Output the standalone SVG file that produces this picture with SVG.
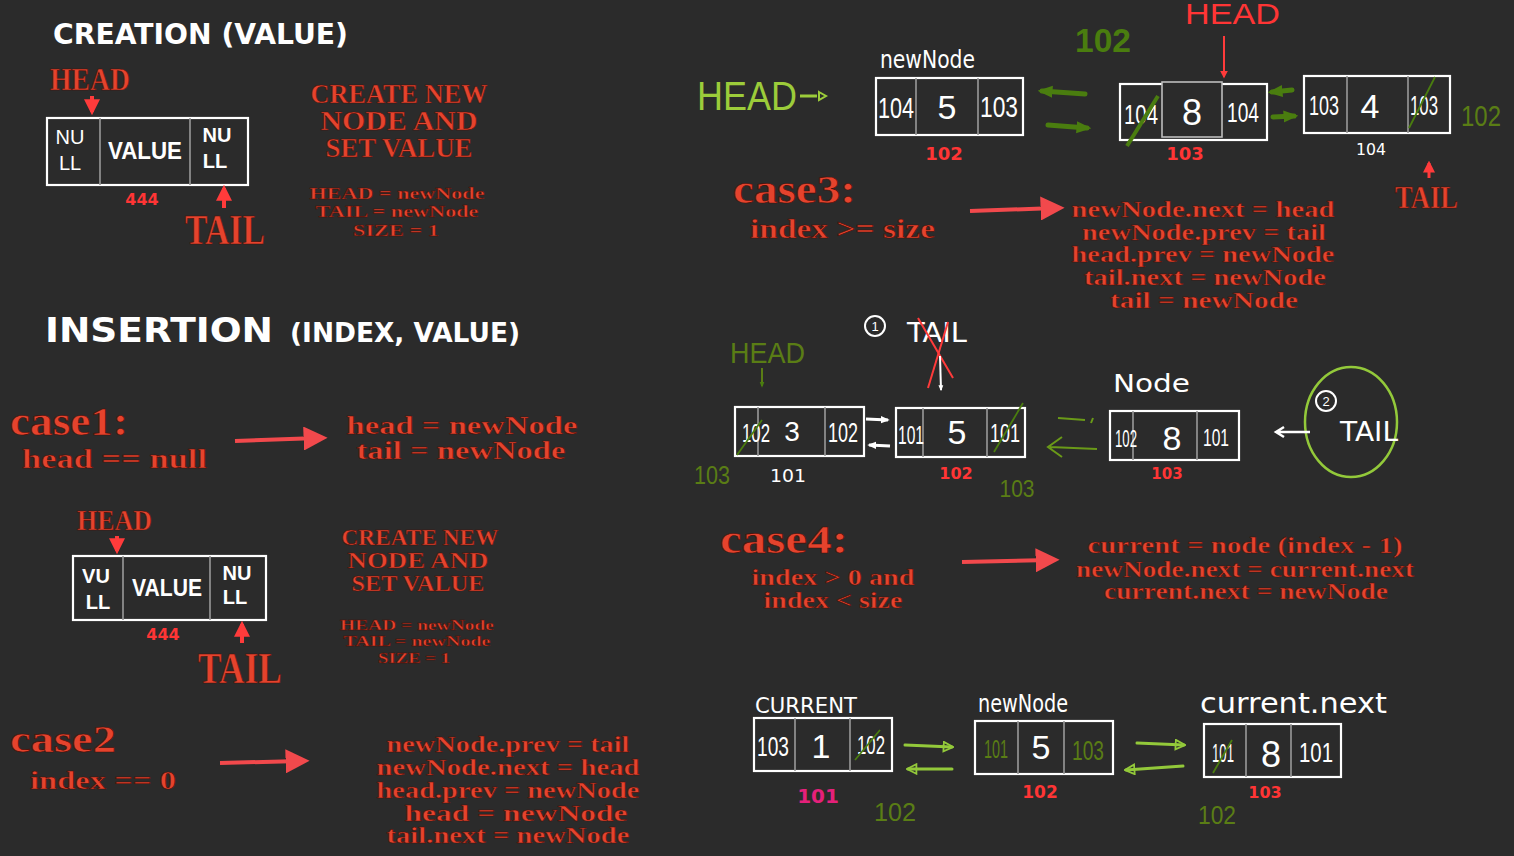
<svg xmlns="http://www.w3.org/2000/svg" width="1514" height="856" viewBox="0 0 1514 856">
<defs>
<style>
.rt{font-family:"Liberation Serif",serif;font-weight:bold;fill:#e5432d;stroke:#4a0d06;stroke-width:0.5;text-anchor:middle}
.rs{font-family:"Liberation Serif",serif;font-weight:bold;fill:#e5432d;stroke:#4a0d06;stroke-width:0.6}
.hw{font-family:"DejaVu Sans",sans-serif;fill:#ffffff}
.hl{font-family:"Liberation Sans",sans-serif;fill:#ffffff;text-anchor:middle}
.box{fill:#2b2b2b;stroke:#ffffff;stroke-width:2.2}
.div{stroke:#9a9a9a;stroke-width:1.6}
.rarr{stroke:#f2494c;stroke-width:4;fill:none}
.sarr{stroke:#ff3b3b;stroke-width:2.5;fill:none}
.garr{stroke:#4a7d0f;stroke-width:5;fill:none;stroke-linecap:round}
.lgarr{stroke:#93c93a;stroke-width:3;fill:none;stroke-linecap:round}
.warr{stroke:#ffffff;stroke-width:2.5;fill:none}
.slash{stroke:#4a7d0f;stroke-width:1.8}
.rnum{font-family:"DejaVu Sans",sans-serif;fill:#ff3535;font-weight:bold;text-anchor:middle}
.gnum{font-family:"Liberation Sans",sans-serif;fill:#5a7d15;text-anchor:middle}
</style>
<marker id="mr" viewBox="0 0 10 10" refX="6" refY="5" markerWidth="6" markerHeight="6" orient="auto" markerUnits="strokeWidth"><path d="M0,0 L10,5 L0,10 z" fill="#f2494c"/></marker>
<marker id="ms" viewBox="0 0 10 10" refX="8" refY="5" markerWidth="4" markerHeight="4" orient="auto" markerUnits="strokeWidth"><path d="M0,0 L10,5 L0,10 z" fill="#ff3b3b"/></marker>
<marker id="mg" viewBox="0 0 10 10" refX="7" refY="5" markerWidth="3" markerHeight="3" orient="auto" markerUnits="strokeWidth"><path d="M0,1 L10,5 L0,9 z" fill="#4a7d0f"/></marker>
<marker id="mlg" viewBox="0 0 10 10" refX="8" refY="5" markerWidth="4" markerHeight="4" orient="auto" markerUnits="strokeWidth"><path d="M1,1 L9,5 L1,9 z" fill="none" stroke="#93c93a" stroke-width="1.5"/></marker>
<marker id="mw" viewBox="0 0 10 10" refX="8" refY="5" markerWidth="3" markerHeight="3" orient="auto" markerUnits="strokeWidth"><path d="M0,1 L10,5 L0,9 z" fill="#ffffff"/></marker>
</defs>
<rect width="1514" height="856" fill="#2b2b2b"/>

<!-- LEFT: creation -->
<g id="title-creation"><text class="hw" x="53" y="44" font-size="28" font-weight="bold" textLength="295" lengthAdjust="spacingAndGlyphs">CREATION (VALUE)</text></g>
<g id="creation-head"><text class="rs" x="50" y="90" font-size="32" textLength="80" lengthAdjust="spacingAndGlyphs">HEAD</text></g>
<g id="creation-node">
<rect class="box" x="47" y="118" width="201" height="67"/>
<line class="div" x1="100" y1="118" x2="100" y2="185"/><line class="div" x1="190" y1="118" x2="190" y2="185"/>
<text class="hl" x="70" y="144" font-size="20">NU</text><text class="hl" x="70" y="170" font-size="20">LL</text>
<text class="hl" x="145" y="159" font-size="24" font-weight="bold" textLength="74" lengthAdjust="spacingAndGlyphs">VALUE</text>
<text class="hl" x="217" y="142" font-size="20" font-weight="bold">NU</text><text class="hl" x="215" y="168" font-size="20" font-weight="bold">LL</text>
<text class="rnum" x="142" y="205" font-size="16">444</text>
</g>
<g id="creation-tail"><text class="rs" x="185" y="244" font-size="42" textLength="80" lengthAdjust="spacingAndGlyphs">TAIL</text></g>
<g id="creation-desc">
<text class="rt" x="399" y="103" font-size="27" textLength="177" lengthAdjust="spacingAndGlyphs">CREATE NEW</text>
<text class="rt" x="399" y="130" font-size="27" textLength="157" lengthAdjust="spacingAndGlyphs">NODE  AND</text>
<text class="rt" x="399" y="157" font-size="27" textLength="147" lengthAdjust="spacingAndGlyphs">SET VALUE</text>
<text class="rt" x="397" y="199" font-size="17" textLength="175" lengthAdjust="spacingAndGlyphs">HEAD = newNode</text>
<text class="rt" x="397" y="217" font-size="17" textLength="163" lengthAdjust="spacingAndGlyphs">TAIL = newNode</text>
<text class="rt" x="396" y="236" font-size="17" textLength="86" lengthAdjust="spacingAndGlyphs">SIZE = 1</text>
</g>

<!-- insertion -->
<g id="title-insertion"><text class="hw" x="45" y="342" font-size="34" font-weight="bold"><tspan textLength="228" lengthAdjust="spacingAndGlyphs">INSERTION</tspan><tspan x="290" font-size="26" textLength="230" lengthAdjust="spacingAndGlyphs">(INDEX, VALUE)</tspan></text></g>
<g id="case1">
<text class="rs" x="10" y="435" font-size="40" font-weight="normal" textLength="118" lengthAdjust="spacingAndGlyphs">case1:</text>
<text class="rs" x="22" y="468" font-size="28" textLength="185" lengthAdjust="spacingAndGlyphs">head  == null</text>
</g>
<g id="case1-result">
<text class="rt" x="462" y="434" font-size="25" textLength="231" lengthAdjust="spacingAndGlyphs">head = newNode</text>
<text class="rt" x="461" y="459" font-size="25" textLength="209" lengthAdjust="spacingAndGlyphs">tail = newNode</text>
</g>

<g id="case2-head"><text class="rs" x="77" y="530" font-size="30" textLength="75" lengthAdjust="spacingAndGlyphs">HEAD</text></g>
<g id="case2-node">
<rect class="box" x="73" y="556" width="193" height="64"/>
<line class="div" x1="123" y1="556" x2="123" y2="620"/><line class="div" x1="210" y1="556" x2="210" y2="620"/>
<text class="hl" x="96" y="583" font-size="20" font-weight="bold">VU</text><text class="hl" x="98" y="609" font-size="20" font-weight="bold">LL</text>
<text class="hl" x="167" y="596" font-size="24" font-weight="bold" textLength="70" lengthAdjust="spacingAndGlyphs">VALUE</text>
<text class="hl" x="237" y="580" font-size="20" font-weight="bold">NU</text><text class="hl" x="235" y="604" font-size="20" font-weight="bold">LL</text>
<text class="rnum" x="163" y="640" font-size="16">444</text>
</g>
<g id="case2-tail"><text class="rs" x="198" y="683" font-size="44" textLength="84" lengthAdjust="spacingAndGlyphs">TAIL</text></g>
<g id="case2-desc">
<text class="rt" x="420" y="545" font-size="23" textLength="157" lengthAdjust="spacingAndGlyphs">CREATE NEW</text>
<text class="rt" x="418" y="568" font-size="23" textLength="141" lengthAdjust="spacingAndGlyphs">NODE  AND</text>
<text class="rt" x="418" y="591" font-size="23" textLength="133" lengthAdjust="spacingAndGlyphs">SET VALUE</text>
<text class="rt" x="417" y="630" font-size="15" textLength="154" lengthAdjust="spacingAndGlyphs">HEAD = newNode</text>
<text class="rt" x="417" y="646" font-size="15" textLength="147" lengthAdjust="spacingAndGlyphs">TAIL = newNode</text>
<text class="rt" x="414" y="663" font-size="15" textLength="72" lengthAdjust="spacingAndGlyphs">SIZE = 1</text>
</g>
<g id="case2">
<text class="rs" x="10" y="752" font-size="38" font-weight="normal" textLength="106" lengthAdjust="spacingAndGlyphs">case2</text>
<text class="rs" x="30" y="789" font-size="26" textLength="146" lengthAdjust="spacingAndGlyphs">index == 0</text>
</g>
<g id="case2-result">
<text class="rt" x="508" y="752" font-size="23" textLength="243" lengthAdjust="spacingAndGlyphs">newNode.prev = tail</text>
<text class="rt" x="508" y="775" font-size="23" textLength="263" lengthAdjust="spacingAndGlyphs">newNode.next = head</text>
<text class="rt" x="508" y="798" font-size="23" textLength="263" lengthAdjust="spacingAndGlyphs">head.prev = newNode</text>
<text class="rt" x="516" y="821" font-size="23" textLength="223" lengthAdjust="spacingAndGlyphs">head = newNode</text>
<text class="rt" x="508" y="843" font-size="23" textLength="243" lengthAdjust="spacingAndGlyphs">tail.next = newNode</text>
</g>

<!-- RIGHT top -->
<g id="head-label-green"><text x="697" y="110" font-family="Liberation Sans, sans-serif" font-size="40" fill="#9ccc3a" textLength="100" lengthAdjust="spacingAndGlyphs">HEAD</text></g>
<g id="newnode-top">
<text class="hw" x="880" y="68" font-size="24" textLength="95" lengthAdjust="spacingAndGlyphs">newNode</text>
<rect class="box" x="876" y="78" width="147" height="57"/>
<line class="div" x1="916" y1="78" x2="916" y2="135"/><line class="div" x1="978" y1="78" x2="978" y2="135"/>
<text class="hl" x="896" y="118" font-size="30" textLength="36" lengthAdjust="spacingAndGlyphs">104</text>
<text class="hl" x="947" y="119" font-size="34">5</text>
<text class="hl" x="999" y="117" font-size="30" textLength="38" lengthAdjust="spacingAndGlyphs">103</text>
<text class="rnum" x="944" y="160" font-size="18">102</text>
</g>
<g id="label-102-top"><text x="1075" y="52" font-family="Liberation Sans, sans-serif" font-weight="bold" font-size="34" fill="#4a7d0f" textLength="56" lengthAdjust="spacingAndGlyphs">102</text></g>
<g id="head-label-red"><text x="1185" y="24" font-family="Liberation Sans, sans-serif" font-size="30" fill="#ff3535" textLength="95" lengthAdjust="spacingAndGlyphs">HEAD</text></g>
<g id="node-8-top">
<rect class="box" x="1120" y="84" width="147" height="56"/>
<rect x="1162" y="82" width="60" height="55" fill="#2b2b2b" stroke="#bdbdbd" stroke-width="1.6"/>
<text class="hl" x="1141" y="124" font-size="28" textLength="34" lengthAdjust="spacingAndGlyphs">104</text>
<line class="slash" x1="1127" y1="146" x2="1158" y2="96" style="stroke-width:4"/>
<text class="hl" x="1192" y="125" font-size="36">8</text>
<text class="hl" x="1243" y="122" font-size="28" textLength="32" lengthAdjust="spacingAndGlyphs">104</text>
<text class="rnum" x="1185" y="160" font-size="18">103</text>
</g>
<g id="node-4-top">
<rect class="box" x="1304" y="76" width="146" height="57"/>
<line class="div" x1="1347" y1="76" x2="1347" y2="133"/><line class="div" x1="1408" y1="76" x2="1408" y2="133"/>
<text class="hl" x="1324" y="115" font-size="28" textLength="30" lengthAdjust="spacingAndGlyphs">103</text>
<text class="hl" x="1370" y="118" font-size="34" font-weight="lighter">4</text>
<text class="hl" x="1424" y="115" font-size="28" textLength="28" lengthAdjust="spacingAndGlyphs">103</text>
<line class="slash" x1="1409" y1="128" x2="1435" y2="77"/>
<text class="hw" x="1356" y="155" font-size="15" textLength="30" lengthAdjust="spacingAndGlyphs">104</text>
</g>
<g id="label-102-right"><text class="gnum" x="1481" y="126" font-size="30" fill="#5a8a12" textLength="40" lengthAdjust="spacingAndGlyphs">102</text></g>
<g id="tail-top"><text class="rs" x="1395" y="208" font-size="32" textLength="63" lengthAdjust="spacingAndGlyphs">TAIL</text></g>

<g id="case3">
<text class="rs" x="733" y="203" font-size="40" font-weight="normal" textLength="123" lengthAdjust="spacingAndGlyphs">case3:</text>
<text class="rs" x="750" y="238" font-size="28" textLength="185" lengthAdjust="spacingAndGlyphs">index &gt;= size</text>
</g>
<g id="case3-result">
<text class="rt" x="1203" y="217" font-size="23" textLength="263" lengthAdjust="spacingAndGlyphs">newNode.next = head</text>
<text class="rt" x="1204" y="240" font-size="23" textLength="244" lengthAdjust="spacingAndGlyphs">newNode.prev = tail</text>
<text class="rt" x="1203" y="262" font-size="23" textLength="263" lengthAdjust="spacingAndGlyphs">head.prev = newNode</text>
<text class="rt" x="1205" y="285" font-size="23" textLength="242" lengthAdjust="spacingAndGlyphs">tail.next = newNode</text>
<text class="rt" x="1204" y="308" font-size="23" textLength="188" lengthAdjust="spacingAndGlyphs">tail = newNode</text>
</g>

<!-- middle right diagram -->
<g id="tail-1">
<circle cx="875" cy="326" r="10" fill="none" stroke="#ffffff" stroke-width="2"/>
<text class="hl" x="875" y="331" font-size="13">1</text>
<text class="hw" x="907" y="342" font-size="26" textLength="60" lengthAdjust="spacingAndGlyphs">TAIL</text>
<line x1="918" y1="318" x2="953" y2="378" stroke="#ff3b3b" stroke-width="2"/>
<line x1="948" y1="322" x2="928" y2="388" stroke="#ff3b3b" stroke-width="2"/>
</g>
<g id="head-mid"><text x="730" y="363" font-family="Liberation Sans, sans-serif" font-size="30" fill="#5a7d15" textLength="75" lengthAdjust="spacingAndGlyphs">HEAD</text></g>
<g id="node-3">
<rect class="box" x="735" y="407" width="129" height="49"/>
<line class="div" x1="758" y1="407" x2="758" y2="456"/><line class="div" x1="825" y1="407" x2="825" y2="456"/>
<text class="hl" x="756" y="442" font-size="26" textLength="28" lengthAdjust="spacingAndGlyphs">102</text>
<line class="slash" x1="737" y1="455" x2="762" y2="420"/>
<text class="hl" x="792" y="441" font-size="28">3</text>
<text class="hl" x="843" y="442" font-size="28" textLength="30" lengthAdjust="spacingAndGlyphs">102</text>
<text class="hw" x="770" y="482" font-size="18" textLength="36" lengthAdjust="spacingAndGlyphs">101</text>
</g>
<g id="node-5-mid">
<rect class="box" x="896" y="408" width="129" height="49"/>
<line class="div" x1="923" y1="408" x2="923" y2="457"/><line class="div" x1="987" y1="408" x2="987" y2="457"/>
<text class="hl" x="911" y="444" font-size="26" textLength="26" lengthAdjust="spacingAndGlyphs">101</text>
<text class="hl" x="957" y="444" font-size="34">5</text>
<text class="hl" x="1005" y="442" font-size="26" textLength="30" lengthAdjust="spacingAndGlyphs">101</text>
<line class="slash" x1="994" y1="452" x2="1023" y2="403"/>
<text class="rnum" x="956" y="479" font-size="16">102</text>
</g>
<g id="node-8-mid">
<text class="hw" x="1113" y="392" font-size="24" textLength="77" lengthAdjust="spacingAndGlyphs">Node</text>
<rect class="box" x="1110" y="411" width="129" height="49"/>
<line class="div" x1="1133" y1="411" x2="1133" y2="460"/><line class="div" x1="1197" y1="411" x2="1197" y2="460"/>
<text class="hl" x="1126" y="447" font-size="24" textLength="22" lengthAdjust="spacingAndGlyphs">102</text>
<text class="hl" x="1172" y="450" font-size="34">8</text>
<text class="hl" x="1216" y="446" font-size="24" textLength="26" lengthAdjust="spacingAndGlyphs">101</text>
<text class="rnum" x="1167" y="479" font-size="15">103</text>
</g>
<g id="tail-2">
<ellipse cx="1351" cy="422" rx="46" ry="55" fill="none" stroke="#93c93a" stroke-width="2.5"/>
<circle cx="1326" cy="401" r="10" fill="none" stroke="#ffffff" stroke-width="2"/>
<text class="hl" x="1326" y="406" font-size="13">2</text>
<text class="hw" x="1340" y="441" font-size="26" textLength="58" lengthAdjust="spacingAndGlyphs">TAIL</text>
</g>
<g id="labels-mid">
<text class="gnum" x="712" y="484" font-size="26" fill="#6a9a18" textLength="36" lengthAdjust="spacingAndGlyphs">103</text>
<text class="gnum" x="1017" y="497" font-size="24" fill="#6a9a18" textLength="35" lengthAdjust="spacingAndGlyphs">103</text>
</g>

<g id="case4">
<text class="rs" x="720" y="553" font-size="40" font-weight="normal" textLength="128" lengthAdjust="spacingAndGlyphs">case4:</text>
<text class="rt" x="833" y="585" font-size="23" textLength="163" lengthAdjust="spacingAndGlyphs">index &gt; 0 and</text>
<text class="rt" x="833" y="608" font-size="23" textLength="139" lengthAdjust="spacingAndGlyphs">index &lt; size</text>
</g>
<g id="case4-result">
<text class="rt" x="1245" y="553" font-size="23" textLength="315" lengthAdjust="spacingAndGlyphs">current = node (index - 1)</text>
<text class="rt" x="1245" y="577" font-size="23" textLength="338" lengthAdjust="spacingAndGlyphs">newNode.next = current.next</text>
<text class="rt" x="1246" y="599" font-size="23" textLength="284" lengthAdjust="spacingAndGlyphs">current.next = newNode</text>
</g>

<!-- bottom right -->
<g id="node-current">
<text class="hw" x="755" y="713" font-size="22" textLength="102" lengthAdjust="spacingAndGlyphs">CURRENT</text>
<rect class="box" x="754" y="718" width="138" height="53"/>
<line class="div" x1="795" y1="718" x2="795" y2="771"/><line class="div" x1="850" y1="718" x2="850" y2="771"/>
<text class="hl" x="773" y="756" font-size="28" textLength="32" lengthAdjust="spacingAndGlyphs">103</text>
<text class="hl" x="821" y="758" font-size="34" font-weight="lighter">1</text>
<text class="hl" x="871" y="754" font-size="26" textLength="28" lengthAdjust="spacingAndGlyphs">102</text>
<line class="slash" x1="855" y1="760" x2="880" y2="730"/>
<text x="818" y="803" font-family="DejaVu Sans, sans-serif" font-weight="bold" font-size="20" fill="#e5207a" text-anchor="middle">101</text>
<text class="gnum" x="895" y="821" font-size="26" textLength="42" lengthAdjust="spacingAndGlyphs">102</text>
</g>
<g id="node-newnode-bottom">
<text class="hw" x="978" y="712" font-size="24" textLength="90" lengthAdjust="spacingAndGlyphs">newNode</text>
<rect class="box" x="975" y="721" width="138" height="53"/>
<line class="div" x1="1018" y1="721" x2="1018" y2="774"/><line class="div" x1="1064" y1="721" x2="1064" y2="774"/>
<text class="gnum" x="996" y="758" font-size="26" textLength="24" lengthAdjust="spacingAndGlyphs">101</text>
<text class="hl" x="1041" y="759" font-size="34">5</text>
<text class="gnum" x="1088" y="760" font-size="28" textLength="32" lengthAdjust="spacingAndGlyphs">103</text>
<text class="rnum" x="1040" y="798" font-size="17">102</text>
</g>
<g id="node-current-next">
<text class="hw" x="1200" y="713" font-size="28" textLength="187" lengthAdjust="spacingAndGlyphs">current.next</text>
<rect class="box" x="1204" y="724" width="137" height="53"/>
<line class="div" x1="1246" y1="724" x2="1246" y2="777"/><line class="div" x1="1291" y1="724" x2="1291" y2="777"/>
<text class="hl" x="1223" y="762" font-size="26" textLength="22" lengthAdjust="spacingAndGlyphs">101</text>
<line class="slash" x1="1213" y1="773" x2="1232" y2="740"/>
<text class="hl" x="1271" y="767" font-size="36">8</text>
<text class="hl" x="1316" y="762" font-size="28" textLength="34" lengthAdjust="spacingAndGlyphs">101</text>
<text class="rnum" x="1265" y="798" font-size="16">103</text>
<text class="gnum" x="1217" y="824" font-size="26" textLength="38" lengthAdjust="spacingAndGlyphs">102</text>
</g>

<g id="connectors">
<line class="sarr" x1="92" y1="96" x2="92" y2="112" marker-end="url(#ms)" style="stroke-width:4"/>
<line class="sarr" x1="224" y1="208" x2="224" y2="188" marker-end="url(#ms)" style="stroke-width:4"/>
<line class="sarr" x1="117" y1="536" x2="117" y2="551" marker-end="url(#ms)" style="stroke-width:4"/>
<line class="sarr" x1="242" y1="643" x2="242" y2="624" marker-end="url(#ms)" style="stroke-width:4"/>
<line class="sarr" x1="1224" y1="36" x2="1224" y2="77" marker-end="url(#ms)" style="stroke-width:2"/>
<line class="sarr" x1="1429" y1="178" x2="1429" y2="163" marker-end="url(#ms)" style="stroke-width:3"/>
<line class="rarr" x1="235" y1="441" x2="318" y2="438" marker-end="url(#mr)"/>
<line class="rarr" x1="220" y1="763" x2="300" y2="761" marker-end="url(#mr)"/>
<line class="rarr" x1="970" y1="211" x2="1055" y2="208" marker-end="url(#mr)"/>
<line class="rarr" x1="962" y1="562" x2="1050" y2="560" marker-end="url(#mr)"/>
<path d="M800,96 L817,96" stroke="#9ccc3a" stroke-width="3" fill="none"/>
<path d="M819,92 L826,96 L819,100 z" fill="none" stroke="#9ccc3a" stroke-width="2"/>
<line class="garr" x1="1085" y1="94" x2="1042" y2="91" marker-end="url(#mg)"/>
<line class="garr" x1="1048" y1="125" x2="1087" y2="128" marker-end="url(#mg)"/>
<line class="garr" x1="1292" y1="90" x2="1272" y2="92" marker-end="url(#mg)"/>
<line class="garr" x1="1273" y1="117" x2="1294" y2="116" marker-end="url(#mg)"/>
<line class="warr" x1="940" y1="356" x2="941" y2="390" marker-end="url(#mw)" style="stroke-width:2"/>
<line x1="762" y1="368" x2="762" y2="386" stroke="#5a7d15" stroke-width="2" marker-end="url(#mg)"/>
<line class="warr" x1="866" y1="419" x2="888" y2="420" marker-end="url(#mw)" style="stroke-width:3"/>
<line class="warr" x1="890" y1="446" x2="869" y2="445" marker-end="url(#mw)" style="stroke-width:3"/>
<path d="M1058,418 L1085,420 M1093,418 L1091,423" stroke="#6a9a18" stroke-width="2" fill="none"/>
<path d="M1097,449 L1050,447 M1062,437 L1048,447 L1062,457" stroke="#6a9a18" stroke-width="2" fill="none"/>
<path d="M1310,432 L1278,432 M1284,427 L1276,432 L1284,437" stroke="#ffffff" stroke-width="2.5" fill="none"/>
<line class="lgarr" x1="905" y1="745" x2="952" y2="747" marker-end="url(#mlg)"/>
<line class="lgarr" x1="952" y1="769" x2="908" y2="769" marker-end="url(#mlg)"/>
<line class="lgarr" x1="1137" y1="743" x2="1184" y2="745" marker-end="url(#mlg)"/>
<line class="lgarr" x1="1183" y1="766" x2="1126" y2="770" marker-end="url(#mlg)"/>
</g>
</svg>
